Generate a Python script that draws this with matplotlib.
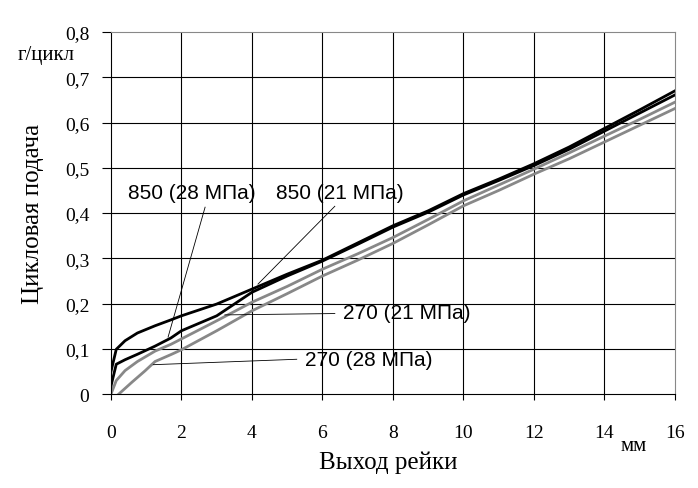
import numpy as np
import matplotlib.pyplot as plt

# данные
x = [0, 0.15, 0.4, 0.75, 1.25, 1.7, 2, 3, 4, 5, 6, 7, 8, 9, 10, 11, 12, 13, 14, 15, 16]
q850_21 = [0.05, 0.099, 0.118, 0.135, 0.151, 0.164, 0.173, 0.199, 0.232, 0.265, 0.296, 0.334, 0.372,
           0.405, 0.443, 0.475, 0.509, 0.546, 0.587, 0.628, 0.670]
q850_28 = [0.018, 0.066, 0.076, 0.088, 0.106, 0.124, 0.140, 0.173, 0.225, 0.261, 0.294, 0.331, 0.369,
           0.402, 0.440, 0.472, 0.505, 0.541, 0.581, 0.621, 0.661]
q270_21 = [0.0, 0.03, 0.052, 0.072, 0.095, 0.110, 0.122, 0.162, 0.203, 0.238, 0.276, 0.310, 0.346,
           0.386, 0.427, 0.462, 0.497, 0.533, 0.570, 0.607, 0.645]
x2 = [0.22, 0.59, 0.96, 1.25, 1.72, 2, 3, 4, 5, 6, 7, 8, 9, 10, 11, 12, 13, 14, 15, 16]
q270_28 = [0.0, 0.026, 0.051, 0.072, 0.088, 0.098, 0.140, 0.184, 0.222, 0.261, 0.296, 0.333,
           0.374, 0.416, 0.450, 0.486, 0.520, 0.557, 0.594, 0.631]

xticks = [0, 2, 4, 6, 8, 10, 12, 14, 16]
yticks = [0, 0.1, 0.2, 0.3, 0.4, 0.5, 0.6, 0.7, 0.8]
ylabels = ['0', '0,1', '0,2', '0,3', '0,4', '0,5', '0,6', '0,7', '0,8']

serif = 'Liberation Serif'
sans = 'Liberation Sans'
gray = '#888888'

fig = plt.figure(figsize=(6.98, 4.89), dpi=100)
ax = fig.add_axes([0.159, 0.192, 0.808, 0.7405])

for v in xticks[1:-1]:
    ax.axvline(v, color='black', lw=0.8, zorder=1)
for v in yticks[1:-1]:
    ax.axhline(v, color='black', lw=0.8, zorder=1)

ax.plot(x, q850_21, color='black', lw=2, zorder=3)
ax.plot(x, q850_28, color='black', lw=2, zorder=3)
ax.plot(x, q270_21, color=gray, lw=2, zorder=2)
ax.plot(x2, q270_28, color=gray, lw=2, zorder=2)

ax.set_xlim(0, 16)
ax.set_ylim(0, 0.8)
ax.set_xticks(xticks)
ax.set_xticklabels([str(v) for v in xticks], fontfamily=serif, fontsize=14)
ax.set_yticks(yticks)
ax.set_yticklabels(ylabels, fontfamily=serif, fontsize=14)
ax.tick_params(axis='x', length=4.5, width=0.8, pad=17)
ax.tick_params(axis='y', length=6.5, width=0.8, pad=9)

ax.spines['top'].set_color(gray)
ax.spines['right'].set_color(gray)
for s in ax.spines.values():
    s.set_linewidth(0.8)

ax.set_xlabel('Выход рейки', fontfamily=serif, fontsize=18, labelpad=7)
ax.xaxis.label.set_x(0.491)
ax.set_ylabel('Цикловая подача', fontfamily=serif, fontsize=18, labelpad=15)
fig.text(0.066, 0.887, 'г/цикл', fontfamily=serif, fontsize=15, ha='center', va='center')
fig.text(0.908, 0.086, 'мм', fontfamily=serif, fontsize=15, ha='center', va='center')

# подписи кривых и выносные линии
tkw = dict(fontfamily=sans, fontsize=15, va='center', ha='left')
lkw = dict(color='black', lw=0.6, zorder=4)
ax.text(0.48, 0.446, '850 (28 МПа)', **tkw)
ax.plot([2.67, 1.62], [0.413, 0.126], **lkw)
ax.text(4.68, 0.446, '850 (21 МПа)', **tkw)
ax.plot([6.35, 4.17], [0.415, 0.243], **lkw)
ax.text(6.58, 0.181, '270 (21 МПа)', **tkw)
ax.plot([6.35, 3.23], [0.178, 0.175], **lkw)
ax.text(5.5, 0.077, '270 (28 МПа)', **tkw)
ax.plot([5.27, 1.2], [0.077, 0.065], **lkw)

fig.savefig('out.png', dpi=100)
